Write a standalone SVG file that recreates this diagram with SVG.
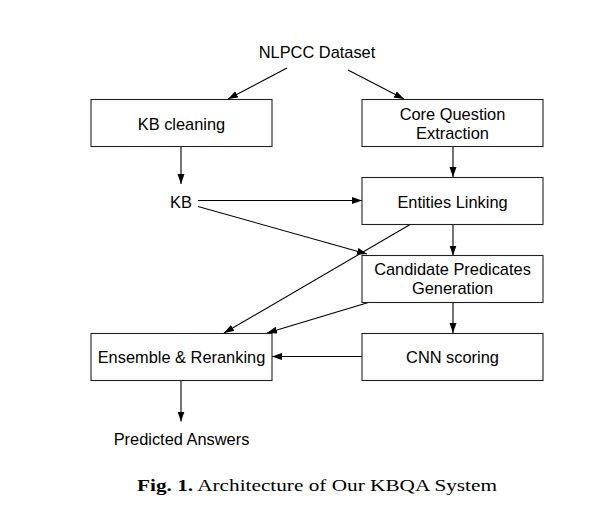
<svg xmlns="http://www.w3.org/2000/svg" width="595" height="524" viewBox="0 0 595 524">
<defs>
<marker id="ah" markerUnits="userSpaceOnUse" markerWidth="11" markerHeight="8" refX="10" refY="3.5" orient="auto">
<path d="M0,0 L10,3.5 L0,7 z" fill="#000"/>
</marker>
<style>
.box{fill:#fff;stroke:#222;stroke-width:1.1}
.lbl{font-family:"Liberation Sans",Arial,sans-serif;font-size:16.4px;fill:#000;text-anchor:middle}
.edge{stroke:#000;stroke-width:1.1;fill:none;marker-end:url(#ah)}
.cap{font-family:"Liberation Serif","Times New Roman",serif;font-size:17px;fill:#000}
</style>
</defs>
<rect width="595" height="524" fill="#fff"/>
<g id="connectors">
<line class="edge" x1="287" y1="68" x2="228" y2="99"/>
<line class="edge" x1="348" y1="70" x2="404" y2="99"/>
<line class="edge" x1="181" y1="147" x2="181" y2="184"/>
<line class="edge" x1="453" y1="147" x2="453" y2="177"/>
<line class="edge" x1="198" y1="200.5" x2="362" y2="200.5"/>
<line class="edge" x1="198" y1="206.5" x2="367" y2="254"/>
<line class="edge" x1="453" y1="224" x2="453" y2="255.5"/>
<line class="edge" x1="411" y1="224" x2="224" y2="333"/>
<line class="edge" x1="370" y1="302" x2="267" y2="333"/>
<line class="edge" x1="453" y1="302" x2="453" y2="333"/>
<line class="edge" x1="362" y1="356.5" x2="272" y2="356.5"/>
<line class="edge" x1="181" y1="381" x2="181" y2="421.5"/>
</g>
<g id="n-nlpcc"><text class="lbl" x="317" y="58">NLPCC Dataset</text></g>
<g id="n-kbclean"><rect class="box" x="91" y="99.5" width="181" height="47"/><text class="lbl" x="181.5" y="129.5">KB cleaning</text></g>
<g id="n-core"><rect class="box" x="362" y="99.5" width="181" height="47"/><text class="lbl" x="452.5" y="120">Core Question</text><text class="lbl" x="452.5" y="139">Extraction</text></g>
<g id="n-kb"><text class="lbl" x="181" y="207.5">KB</text></g>
<g id="n-entities"><rect class="box" x="362" y="177.5" width="181" height="47"/><text class="lbl" x="452.5" y="207.5">Entities Linking</text></g>
<g id="n-cand"><rect class="box" x="362" y="255.5" width="181" height="47"/><text class="lbl" x="452.5" y="275">Candidate Predicates</text><text class="lbl" x="452.5" y="294">Generation</text></g>
<g id="n-ens"><rect class="box" x="91" y="333.5" width="181" height="47"/><text class="lbl" x="181.5" y="363">Ensemble &amp; Reranking</text></g>
<g id="n-cnn"><rect class="box" x="362" y="333.5" width="181" height="47"/><text class="lbl" x="452.5" y="363">CNN scoring</text></g>
<g id="n-pred"><text class="lbl" x="181.5" y="444.5">Predicted Answers</text></g>
<g id="caption"><text class="cap" x="137" y="490.5" textLength="360" lengthAdjust="spacingAndGlyphs"><tspan font-weight="bold">Fig. 1.</tspan> Architecture of Our KBQA System</text></g>
</svg>
